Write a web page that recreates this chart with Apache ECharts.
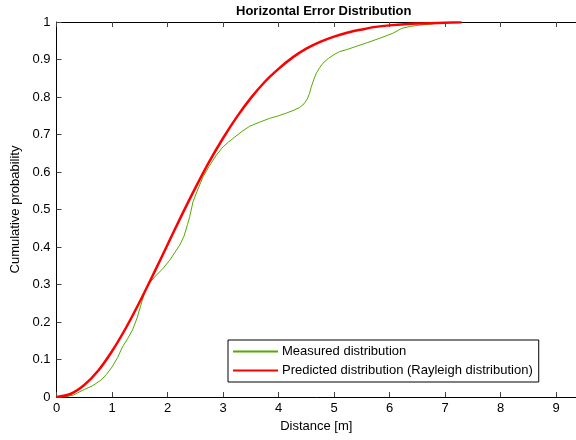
<!DOCTYPE html>
<html>
<head>
<meta charset="utf-8">
<script src="https://cdn.jsdelivr.net/npm/echarts@6/dist/echarts.min.js"></script>
<style>html,body{margin:0;padding:0;background:#fff;}#c{width:576px;height:440px;}</style>
</head>
<body>
<div id="c"></div>
<script>
var xTicks = [0,1,2,3,4,5,6,7,8,9];
var yTicks = [0,0.1,0.2,0.3,0.4,0.5,0.6,0.7,0.8,0.9,1];
var measuredX = [0,0.15,0.3,0.5,0.65,0.8,0.9,1.0,1.1,1.19,1.28,1.37,1.45,1.52,1.6,1.68,1.8,1.92,2.04,2.13,2.22,2.3,2.36,2.40,2.46,2.55,2.64,2.75,2.88,3.0,3.1,3.2,3.34,3.48,3.66,3.84,4.0,4.14,4.28,4.38,4.46,4.52,4.56,4.59,4.64,4.68,4.74,4.80,4.9,5.0,5.1,5.22,5.4,5.6,5.83,6.06,6.22,6.37,6.55,6.79];
var measuredY = [0,0,0.005,0.02,0.03,0.045,0.06,0.08,0.105,0.134,0.155,0.179,0.21,0.245,0.285,0.305,0.325,0.343,0.365,0.385,0.405,0.43,0.46,0.481,0.521,0.555,0.587,0.615,0.645,0.667,0.68,0.692,0.708,0.722,0.733,0.743,0.75,0.757,0.765,0.772,0.782,0.795,0.81,0.827,0.848,0.863,0.878,0.89,0.903,0.913,0.921,0.926,0.935,0.945,0.957,0.970,0.983,0.988,0.992,0.995];
var predictedX = [0,0.25,0.5,0.75,1,1.25,1.5,1.75,2,2.25,2.5,2.75,3,3.25,3.5,3.75,4,4.25,4.5,4.75,5,5.25,5.5,5.75,6,6.5,7,7.3];
var predictedY = [0,0.008,0.032,0.07,0.122,0.184,0.254,0.329,0.406,0.483,0.557,0.627,0.69,0.747,0.797,0.84,0.875,0.905,0.929,0.947,0.961,0.972,0.98,0.987,0.991,0.996,0.998,0.999];
var seriesNames = ['Measured distribution','Predicted distribution (Rayleigh distribution)'];

function pairs(xs, ys){ return xs.map(function(x,i){ return [x, ys[i]]; }); }

var font = 'Liberation Sans, Arial, sans-serif';
var chart = echarts.init(document.getElementById('c'), null, {renderer:'canvas'});
chart.setOption({
  animation: false,
  backgroundColor: '#fff',
  title: {
    text: 'Horizontal Error Distribution',
    left: 231, top: 0,
    textStyle: {fontFamily: font, fontSize: 13, fontWeight: 'bold', color: '#000'}
  },
  grid: {left: 56.5, top: 22, right: 0, bottom: 43, containLabel: false},
  legend: {
    left: 228, top: 340, orient: 'vertical',
    padding: [5, 6, 5, 5],
    itemGap: 6, itemWidth: 45, itemHeight: 2,
    borderColor: '#000', borderWidth: 1, backgroundColor: '#fff',
    textStyle: {fontFamily: font, fontSize: 13, color: '#000', padding: [0,0,0,-1]},
    data: [
      {name: seriesNames[0], icon: 'rect', itemStyle: {color: '#55aa00'}},
      {name: seriesNames[1], icon: 'rect', itemStyle: {color: '#ff0000'}}
    ]
  },
  xAxis: [{
    type: 'value', min: 0, max: 9.36, interval: 1, position: 'bottom',
    name: 'Distance [m]', nameLocation: 'middle', nameGap: 21,
    nameTextStyle: {fontFamily: font, fontSize: 13, color: '#000'},
    axisLine: {show: true, onZero: false, lineStyle: {color: '#000', width: 1}},
    axisTick: {show: true, inside: true, length: 5, lineStyle: {color: '#444'}},
    axisLabel: {fontFamily: font, fontSize: 13, color: '#000', margin: 5, showMaxLabel: false,
      formatter: function(v){ return xTicks.indexOf(v) >= 0 ? String(v) : ''; }},
    splitLine: {show: false}
  },{
    type: 'value', min: 0, max: 9.36, interval: 1, position: 'top',
    axisLine: {show: true, onZero: false, lineStyle: {color: '#000', width: 1}},
    axisTick: {show: true, inside: true, length: 5, lineStyle: {color: '#444'}},
    axisLabel: {show: false},
    splitLine: {show: false}
  }],
  yAxis: {
    type: 'value', min: 0, max: 1, interval: 0.1,
    name: 'Cumulative probability', nameLocation: 'middle', nameGap: 31,
    nameTextStyle: {fontFamily: font, fontSize: 13, color: '#000'},
    axisLine: {show: true, onZero: false, lineStyle: {color: '#000', width: 1}},
    axisTick: {show: true, inside: true, length: 5, lineStyle: {color: '#444'}},
    axisLabel: {fontFamily: font, fontSize: 13, color: '#000', margin: 6,
      formatter: function(v){ var r = Math.round(v*10)/10; return yTicks.indexOf(r) >= 0 ? String(r) : ''; }},
    splitLine: {show: false}
  },
  series: [{
    name: seriesNames[0], type: 'line', xAxisIndex: 0,
    data: pairs(measuredX, measuredY),
    showSymbol: false, symbol: 'none',
    lineStyle: {color: '#55aa00', width: 1}, itemStyle: {color: '#55aa00'}
  },{
    name: seriesNames[1], type: 'line', xAxisIndex: 0,
    data: pairs(predictedX, predictedY), smooth: 0.3,
    showSymbol: false, symbol: 'none',
    lineStyle: {color: '#ff0000', width: 2.5}, itemStyle: {color: '#ff0000'}
  }]
});
</script>
</body>
</html>
